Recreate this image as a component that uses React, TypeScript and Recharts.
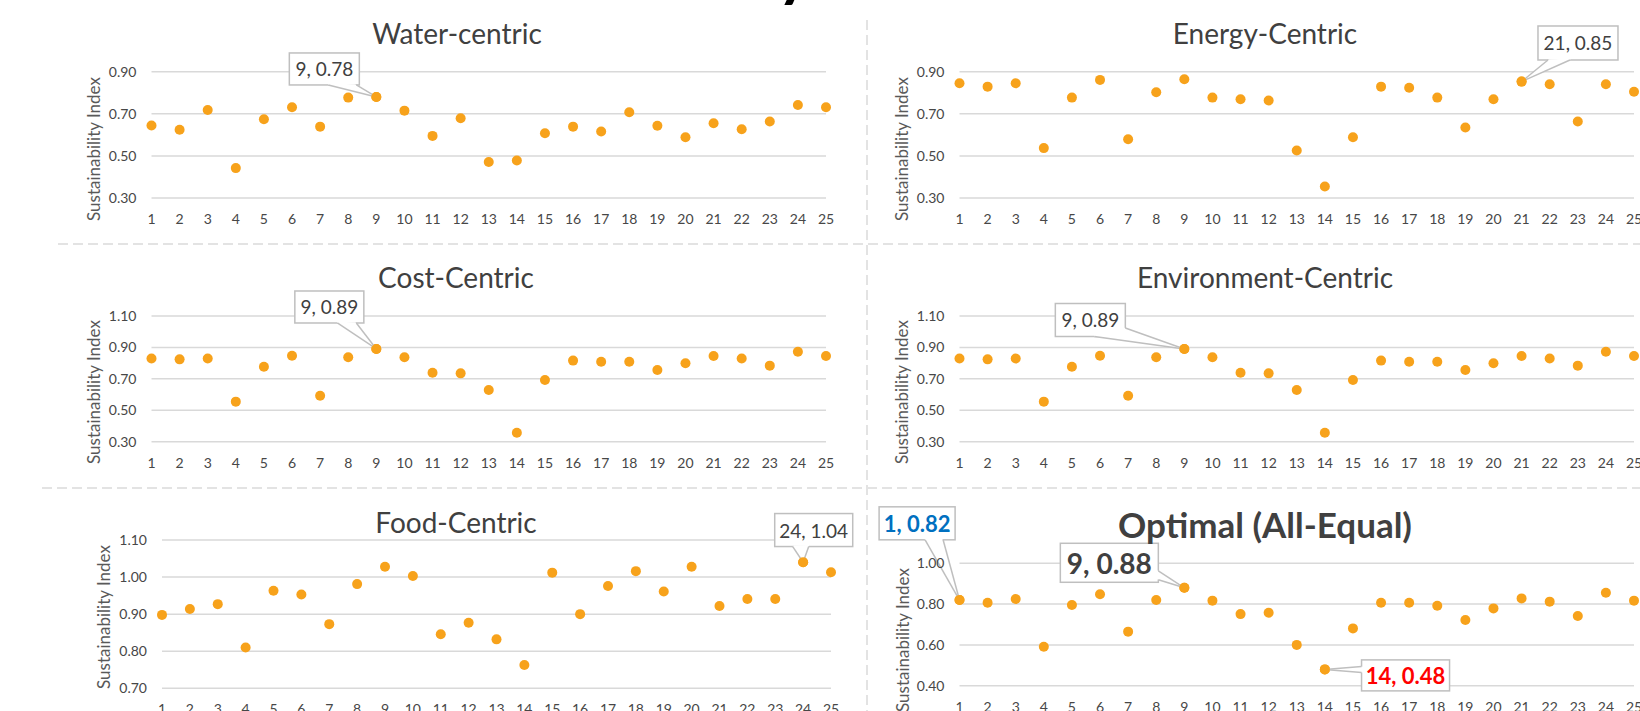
import { CartesianGrid, Scatter, ScatterChart, XAxis, YAxis } from "recharts"

// run numbers on the x axis
const runs = [1, 2, 3, 4, 5, 6, 7, 8, 9, 10, 11, 12, 13, 14, 15, 16, 17, 18, 19, 20, 21, 22, 23, 24, 25]

// sustainability index per run
const waterValues = [0.644, 0.624, 0.718, 0.442, 0.674, 0.731, 0.639, 0.777, 0.78, 0.715, 0.595, 0.679, 0.471, 0.478, 0.608, 0.639, 0.616, 0.707, 0.643, 0.589, 0.655, 0.627, 0.663, 0.742, 0.731]
const energyValues = [0.845, 0.829, 0.845, 0.537, 0.777, 0.861, 0.579, 0.802, 0.864, 0.777, 0.769, 0.763, 0.526, 0.355, 0.589, 0.829, 0.824, 0.777, 0.635, 0.769, 0.853, 0.84, 0.663, 0.84, 0.805]
const costValues = [0.83, 0.824, 0.83, 0.555, 0.777, 0.847, 0.593, 0.837, 0.89, 0.837, 0.739, 0.735, 0.629, 0.357, 0.693, 0.816, 0.809, 0.809, 0.756, 0.799, 0.845, 0.83, 0.784, 0.873, 0.845]
const environmentValues = [0.83, 0.824, 0.83, 0.555, 0.777, 0.847, 0.593, 0.837, 0.89, 0.837, 0.739, 0.735, 0.629, 0.357, 0.693, 0.816, 0.809, 0.809, 0.756, 0.799, 0.845, 0.83, 0.784, 0.873, 0.845]
const foodValues = [0.898, 0.914, 0.927, 0.81, 0.963, 0.953, 0.873, 0.981, 1.028, 1.003, 0.846, 0.877, 0.832, 0.763, 1.012, 0.9, 0.976, 1.016, 0.961, 1.028, 0.922, 0.941, 0.941, 1.04, 1.013]
const optimalValues = [0.82, 0.807, 0.825, 0.591, 0.796, 0.848, 0.665, 0.82, 0.88, 0.817, 0.751, 0.758, 0.6, 0.48, 0.681, 0.807, 0.807, 0.792, 0.722, 0.779, 0.828, 0.812, 0.742, 0.856, 0.817]

// y axis ticks
const ticksLow = [0.3, 0.5, 0.7, 0.9]
const ticksWide = [0.3, 0.5, 0.7, 0.9, 1.1]
const ticksFood = [0.7, 0.8, 0.9, 1.0, 1.1]
const ticksOptimal = [0.4, 0.6, 0.8, 1.0]

const FONT = "Lato, 'Open Sans', sans-serif"
const DOT = "#F7A21B"
const TEXT = "#404040"
const TICK = "#474747"
const BORDER = "#BFBFBF"

const toPoints = (values: number[]) => runs.map((x, i) => ({ x, y: values[i] }))

type Callout = {
  run: number
  text: string
  dx: number
  dy: number
  w: number
  h: number
  base: number[][]
  size: number
  color?: string
  bold?: boolean
}

type PanelDef = {
  title: string
  bold?: boolean
  titleSize: number
  values: number[]
  domain: number[]
  ticks: number[]
  left: number
  top: number
  plotL: number
  plotR: number
  plotT: number
  plotB: number
  titleX: number
  titleY: number
  axisX: number
  axisY: number
  callouts: Callout[]
}

const panels: PanelDef[] = [
  {
    title: "Water-centric", titleSize: 28, values: waterValues, domain: [0.3, 0.9], ticks: ticksLow,
    left: 0, top: 0, plotL: 151.5, plotR: 826, plotT: 71.7, plotB: 198, titleX: 457, titleY: 33, axisX: 93, axisY: 149,
    callouts: [{ run: 9, text: "9, 0.78", dx: -52, dy: -28, w: 70, h: 32, base: [[4, 16], [32, 16]], size: 19 }],
  },
  {
    title: "Energy-Centric", titleSize: 28, values: energyValues, domain: [0.3, 0.9], ticks: ticksLow,
    left: 808, top: 0, plotL: 151.5, plotR: 826, plotT: 71.7, plotB: 198, titleX: 457, titleY: 33, axisX: 93, axisY: 149,
    callouts: [{ run: 21, text: "21, 0.85", dx: 56.4, dy: -38.6, w: 80, h: 34, base: [[-30, 17], [-8, 17]], size: 19 }],
  },
  {
    title: "Cost-Centric", titleSize: 28, values: costValues, domain: [0.3, 1.1], ticks: ticksWide,
    left: 0, top: 244, plotL: 151.5, plotR: 826, plotT: 72, plotB: 197.7, titleX: 456, titleY: 33, axisX: 93, axisY: 148,
    callouts: [{ run: 9, text: "9, 0.89", dx: -47, dy: -42, w: 69, h: 32, base: [[8, 16], [27, 16]], size: 19 }],
  },
  {
    title: "Environment-Centric", titleSize: 28, values: environmentValues, domain: [0.3, 1.1], ticks: ticksWide,
    left: 808, top: 244, plotL: 151.5, plotR: 826, plotT: 72, plotB: 197.7, titleX: 457, titleY: 33, axisX: 93, axisY: 148,
    callouts: [{ run: 9, text: "9, 0.89", dx: -94, dy: -29, w: 70, h: 33, base: [[4, 16.5], [35, 8]], size: 19 }],
  },
  {
    title: "Food-Centric", titleSize: 28, values: foodValues, domain: [0.7, 1.1], ticks: ticksFood,
    left: 0, top: 488, plotL: 162, plotR: 831, plotT: 52, plotB: 200.3, titleX: 456, titleY: 34, axisX: 103, axisY: 129,
    callouts: [{ run: 24, text: "24, 1.04", dx: 10.6, dy: -32.2, w: 78, h: 33, base: [[-21, 16.5], [-5, 16.5]], size: 19 }],
  },
  {
    title: "Optimal (All-Equal)", bold: true, titleSize: 35, values: optimalValues, domain: [0.4, 1.0], ticks: ticksOptimal,
    left: 808, top: 488, plotL: 151.5, plotR: 826, plotT: 75.3, plotB: 197.7, titleX: 457, titleY: 36, axisX: 94, axisY: 152,
    callouts: [
      { run: 1, text: "1, 0.82", dx: -42.4, dy: -76.7, w: 76, h: 33, base: [[8, 16.5], [26, 16.5]], size: 22, color: "#0070C0", bold: true },
      { run: 9, text: "9, 0.88", dx: -75, dy: -25, w: 98, h: 39, base: [[49, 8], [49, 17]], size: 28, bold: true },
      { run: 14, text: "14, 0.48", dx: 80.7, dy: 6, w: 88, h: 31, base: [[-44, -9], [-44, -3]], size: 22, color: "#FF0000", bold: true },
    ],
  },
]

const PANEL_W = 866
const PANEL_H = 244
const X_AXIS_H = 30

const Dot = (props: any) => {
  const { cx, cy } = props
  if (cx == null || cy == null) return null
  return <circle cx={cx} cy={cy} r={5} fill={DOT} />
}

const makeCallout = (c: Callout) => (props: any) => {
  const { cx, cy } = props
  if (cx == null || cy == null) return null
  const bx = cx + c.dx
  const by = cy + c.dy
  const p = c.base.map(([ox, oy]) => [bx + ox, by + oy])
  // pull the wedge base a touch into the box so it hides the border there
  const inner = c.base.map(([ox, oy]) => {
    const len = Math.hypot(ox, oy) || 1
    return [bx + ox - (ox / len) * 1.5, by + oy - (oy / len) * 1.5]
  })
  return (
    <g>
      <rect x={bx - c.w / 2} y={by - c.h / 2} width={c.w} height={c.h} fill="#fff" stroke={BORDER} strokeWidth={1.5} />
      <polygon
        points={`${inner[0][0]},${inner[0][1]} ${p[0][0]},${p[0][1]} ${cx},${cy} ${p[1][0]},${p[1][1]} ${inner[1][0]},${inner[1][1]}`}
        fill="#fff"
      />
      <line x1={p[0][0]} y1={p[0][1]} x2={cx} y2={cy} stroke={BORDER} strokeWidth={1.5} />
      <line x1={p[1][0]} y1={p[1][1]} x2={cx} y2={cy} stroke={BORDER} strokeWidth={1.5} />
      <text
        x={bx}
        y={by}
        textAnchor="middle"
        dominantBaseline="central"
        fontFamily={FONT}
        fontSize={c.size}
        fontWeight={c.bold ? 700 : 400}
        fill={c.color || TEXT}
      >
        {c.text}
      </text>
      <circle cx={cx} cy={cy} r={5} fill={DOT} />
    </g>
  )
}

function Panel({ p }: { p: PanelDef }) {
  const data = toPoints(p.values)
  return (
    <div style={{ position: "absolute", left: p.left, top: p.top, width: PANEL_W, height: PANEL_H }}>
      <ScatterChart
        width={PANEL_W}
        height={PANEL_H}
        margin={{ top: p.plotT, right: PANEL_W - p.plotR, bottom: PANEL_H - p.plotB - X_AXIS_H, left: 0 }}
      >
        <CartesianGrid vertical={false} stroke="#D9D9D9" strokeWidth={1.5} />
        <XAxis
          type="number"
          dataKey="x"
          domain={[1, 25]}
          ticks={runs}
          interval={0}
          height={X_AXIS_H}
          axisLine={false}
          tickLine={false}
          tickSize={0}
          tickMargin={16}
          tick={{ fill: TICK, fontSize: 14, fontFamily: FONT }}
        />
        <YAxis
          type="number"
          dataKey="y"
          domain={p.domain}
          ticks={p.ticks}
          width={p.plotL}
          axisLine={false}
          tickLine={false}
          tickSize={0}
          tickMargin={15}
          tickFormatter={(v: number) => v.toFixed(2)}
          tick={{ fill: TICK, fontSize: 14, fontFamily: FONT }}
        />
        <Scatter data={data} shape={Dot} isAnimationActive={false} />
        {p.callouts.map((c) => (
          <Scatter
            key={c.run}
            data={data.filter((d) => d.x === c.run)}
            shape={makeCallout(c)}
            isAnimationActive={false}
          />
        ))}
      </ScatterChart>
      <svg
        width={PANEL_W}
        height={PANEL_H}
        style={{ position: "absolute", left: 0, top: 0, pointerEvents: "none", overflow: "visible" }}
      >
        <text
          x={p.titleX}
          y={p.titleY}
          textAnchor="middle"
          dominantBaseline="central"
          fontFamily={FONT}
          fontSize={p.titleSize}
          fontWeight={p.bold ? 700 : 400}
          fill={TEXT}
        >
          {p.title}
        </text>
        <text
          x={p.axisX}
          y={p.axisY}
          transform={`rotate(-90 ${p.axisX} ${p.axisY})`}
          textAnchor="middle"
          dominantBaseline="central"
          fontFamily={FONT}
          fontSize={17}
          fill="#595959"
        >
          Sustainability Index
        </text>
      </svg>
    </div>
  )
}

export default function App() {
  return (
    <div
      style={{
        position: "fixed",
        left: 0,
        top: 0,
        width: 1640,
        height: 711,
        overflow: "hidden",
        background: "#fff",
      }}
    >
      <svg width={1640} height={711} style={{ position: "absolute", left: 0, top: 0 }}>
        <text x={777} y={-5} fontFamily={FONT} fontSize={64} fontWeight={700} fill="#000">
          y
        </text>
        <line x1={867} y1={20} x2={867} y2={711} stroke="#E3E3E3" strokeWidth={2} strokeDasharray="10 5" />
        <line x1={58} y1={244} x2={1640} y2={244} stroke="#E3E3E3" strokeWidth={2} strokeDasharray="10 5" />
        <line x1={42} y1={488} x2={1640} y2={488} stroke="#E3E3E3" strokeWidth={2} strokeDasharray="10 5" />
      </svg>
      {panels.map((p) => (
        <Panel key={p.title} p={p} />
      ))}
    </div>
  )
}
